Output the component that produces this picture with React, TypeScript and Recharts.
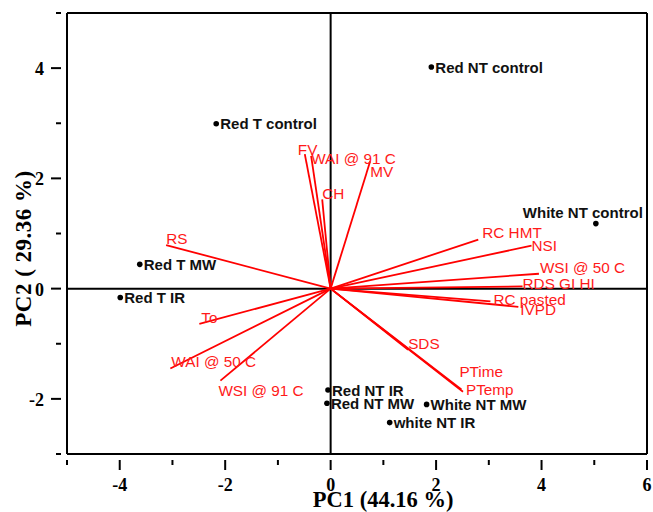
import React from 'react';
import { ScatterChart, Scatter, XAxis, YAxis, ReferenceLine, Label } from 'recharts';

// Sample scores
const sampleNames = ['Red NT control', 'Red T control', 'White NT control', 'Red T MW', 'Red T IR', 'Red NT IR', 'Red NT MW', 'White NT MW', 'white NT IR'];
const samplePC1 = [1.91, -2.17, 5.03, -3.62, -3.99, -0.05, -0.07, 1.82, 1.12];
const samplePC2 = [4.02, 2.99, 1.18, 0.44, -0.16, -1.84, -2.08, -2.10, -2.43];

// Variable loadings (vectors)
const varNames = ['FV', 'WAI @ 91 C', 'CH', 'MV', 'RS', 'To', 'WAI @ 50 C', 'WSI @ 91 C', 'RC HMT', 'NSI', 'WSI @ 50 C', 'RDS GI HI', 'RC pasted', 'IVPD', 'SDS', 'PTime', 'PTemp'];
const varPC1 = [-0.49, -0.37, -0.16, 0.75, -3.12, -2.49, -3.04, -2.09, 2.80, 3.81, 3.95, 3.64, 3.03, 3.56, 1.47, 2.48, 2.51];
const varPC2 = [2.44, 2.41, 1.62, 2.31, 0.79, -0.64, -1.45, -1.67, 0.89, 0.78, 0.27, 0.04, -0.23, -0.33, -1.11, -1.83, -1.87];

const xTicks = [-5, -4, -3, -2, -1, 0, 1, 2, 3, 4, 5, 6];
const yTicks = [-3, -2, -1, 0, 1, 2, 3, 4, 5];

const samples = sampleNames.map((name, i) => ({ name, x: samplePC1[i], y: samplePC2[i] }));
const vectors = varNames.map((name, i) => ({ name, x: varPC1[i], y: varPC2[i] }));

// label placement (pixels, relative to point)
const sampleLabelOffset: Record<string, [number, number]> = {
  'White NT control': [-73, -11],
};
const vectorLabelOffset: Record<string, [number, number]> = {
  'FV': [-7, -5],
  'WAI @ 91 C': [0, 3],
  'CH': [0, -6],
  'MV': [0, 10],
  'RS': [0, -7],
  'To': [2, -6],
  'WAI @ 50 C': [1, -7],
  'WSI @ 91 C': [-2, 10],
  'RC HMT': [4, -7],
  'NSI': [0, 0],
  'WSI @ 50 C': [1, -6],
  'RDS GI HI': [0, -3],
  'RC pasted': [3, -2],
  'IVPD': [2, 3],
  'SDS': [0, -6],
  'PTime': [-2, -18],
  'PTemp': [3, -2],
};

const serif = '"Liberation Serif", "Times New Roman", serif';
const sans = '"Liberation Sans", Arial, sans-serif';

const XTick = (props: any) => {
  const { x, y, payload } = props;
  const major = payload.value % 2 === 0;
  return (
    <g>
      <line x1={x} x2={x} y1={y} y2={y + (major ? 10 : 5)} stroke="#000" strokeWidth={2} />
      {major && (
        <text x={x} y={y + 31} textAnchor="middle" fontFamily={serif} fontWeight="bold" fontSize={18} fill="#000">
          {payload.value}
        </text>
      )}
    </g>
  );
};

const YTick = (props: any) => {
  const { x, y, payload } = props;
  const major = payload.value % 2 === 0;
  return (
    <g>
      <line x1={x} x2={x - (major ? 10 : 5)} y1={y} y2={y} stroke="#000" strokeWidth={2} />
      {major && (
        <text x={x - 17} y={y + 7} textAnchor="end" fontFamily={serif} fontWeight="bold" fontSize={18} fill="#000">
          {payload.value}
        </text>
      )}
    </g>
  );
};

const SampleShape = (props: any) => {
  const { cx, cy, payload } = props;
  const off = sampleLabelOffset[payload.name] || [4, 0];
  return (
    <g>
      <circle cx={cx} cy={cy} r={2.8} fill="#000" />
      <text x={cx + off[0]} y={cy + off[1]} dominantBaseline="central" fontFamily={sans} fontWeight="bold" fontSize={15} fill="#111">
        {payload.name}
      </text>
    </g>
  );
};

const VectorLabel = (props: any) => {
  const { cx, cy, payload } = props;
  const off = vectorLabelOffset[payload.name] || [0, 0];
  return (
    <text x={cx + off[0]} y={cy + off[1]} dominantBaseline="central" fontFamily={sans} fontSize={15.3} fill="#ff1a1a">
      {payload.name}
    </text>
  );
};

export default function App() {
  return (
    <div style={{ position: 'fixed', left: 0, top: 0, width: 653, height: 512, background: '#fff' }}>
      <ScatterChart width={653} height={512} margin={{ top: 13, right: 6, bottom: 0, left: 0 }}>
        <XAxis
          type="number"
          dataKey="x"
          domain={[-5, 6]}
          ticks={xTicks}
          interval={0}
          tickLine={false}
          tickMargin={0}
          tick={<XTick />}
          height={58}
          axisLine={{ stroke: '#000', strokeWidth: 2 }}
          allowDataOverflow
        >
          <Label
            content={(p: any) => {
              const vb = p.viewBox;
              return (
                <text x={vb.x + vb.width * 0.545} y={vb.y + 53} textAnchor="middle" fontFamily={serif} fontWeight="bold" fontSize={22.5} fill="#000">
                  PC1 (44.16 %)
                </text>
              );
            }}
          />
        </XAxis>
        <YAxis
          type="number"
          dataKey="y"
          domain={[-3, 5]}
          ticks={yTicks}
          interval={0}
          tickLine={false}
          tickMargin={0}
          tick={<YTick />}
          width={67}
          axisLine={{ stroke: '#000', strokeWidth: 2 }}
          allowDataOverflow
        >
          <Label
            content={(p: any) => {
              const vb = p.viewBox;
              const cx = 23;
              const cy = vb.y + vb.height / 2 + 15;
              return (
                <text x={cx} y={cy} transform={`rotate(-90 ${cx} ${cy})`} textAnchor="middle" dominantBaseline="central" fontFamily={serif} fontWeight="bold" fontSize={23} letterSpacing={0.5} fill="#000">
                  PC2 ( 29.36 %)
                </text>
              );
            }}
          />
        </YAxis>
        <ReferenceLine y={5} stroke="#000" strokeWidth={2} />
        <ReferenceLine x={6} stroke="#000" strokeWidth={2} />
        <ReferenceLine x={0} stroke="#000" strokeWidth={2} />
        <ReferenceLine y={0} stroke="#000" strokeWidth={2} />
        {vectors.map((v) => (
          <ReferenceLine
            key={v.name}
            segment={[{ x: 0, y: 0 }, { x: v.x, y: v.y }]}
            stroke="#ff0000"
            strokeWidth={1.8}
          />
        ))}
        <Scatter data={vectors} shape={<VectorLabel />} isAnimationActive={false} />
        <Scatter data={samples} shape={<SampleShape />} isAnimationActive={false} />
      </ScatterChart>
    </div>
  );
}
